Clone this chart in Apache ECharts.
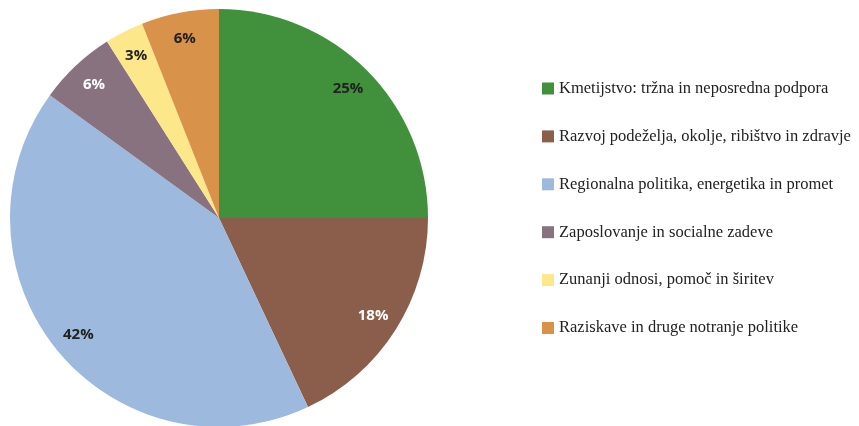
<!DOCTYPE html>
<html>
<head>
<meta charset="utf-8">
<script src="https://cdn.jsdelivr.net/npm/echarts@6/dist/echarts.min.js"></script>
<style>
  html, body { margin: 0; padding: 0; background: #fff; }
  #chart { width: 859px; height: 426px; }
</style>
</head>
<body>
<div id="chart"></div>
<script>
const categories = [
  "Kmetijstvo: tržna in neposredna podpora",
  "Razvoj podeželja, okolje, ribištvo in zdravje",
  "Regionalna politika, energetika in promet",
  "Zaposlovanje in socialne zadeve",
  "Zunanji odnosi, pomoč in širitev",
  "Raziskave in druge notranje politike"
]
const shares = [25, 18, 42, 6, 3, 6]
const colors = ["#40903c", "#8b5e4c", "#9db9de", "#897280", "#fce78a", "#d9924a"]
const labelColors = ["#222", "#fff", "#222", "#fff", "#222", "#222"]

const myChart = echarts.init(document.getElementById("chart"))

const pieData = categories.map((name, i) => ({
  name,
  value: shares[i],
  itemStyle: { color: colors[i] }
}))

// labels sit near the rim, so a transparent ring carries them
const labelData = categories.map((name, i) => ({
  name,
  value: shares[i],
  itemStyle: { color: "transparent" },
  label: { color: labelColors[i] }
}))

const option = {
  backgroundColor: "#fff",
  animation: false,
  legend: {
    orient: "vertical",
    left: 537,
    top: 75,
    itemWidth: 12,
    itemHeight: 12,
    itemGap: 30.9,
    icon: "rect",
    data: categories,
    textStyle: {
      fontFamily: "Liberation Serif",
      fontSize: 16.5,
      color: "#222",
      lineHeight: 16
    }
  },
  series: [
    {
      type: "pie",
      center: [219, 218],
      radius: [0, 209],
      startAngle: 90,
      clockwise: true,
      label: { show: false },
      labelLine: { show: false },
      emphasis: { disabled: true },
      data: pieData
    },
    {
      type: "pie",
      center: [219, 218],
      radius: [150, 209],
      startAngle: 90,
      clockwise: true,
      silent: true,
      legendHoverLink: false,
      label: {
        show: true,
        position: "inside",
        formatter: "{c}%",
        fontFamily: "Open Sans",
        fontWeight: "bold",
        fontSize: 15
      },
      labelLine: { show: false },
      data: labelData
    }
  ]
}

myChart.setOption(option)
</script>
</body>
</html>
